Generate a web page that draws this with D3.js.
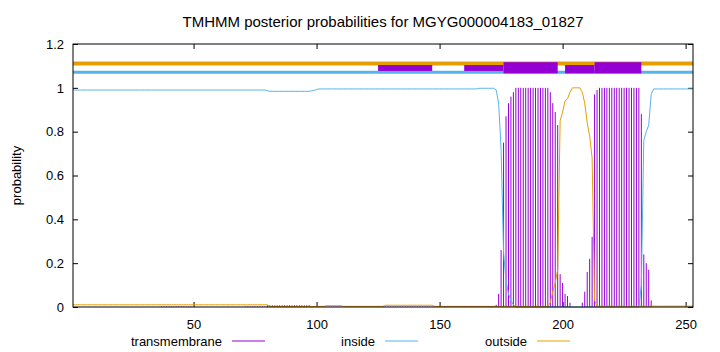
<!DOCTYPE html>
<html>
<head>
<meta charset="utf-8">
<script src="https://cdn.jsdelivr.net/npm/d3@7"></script>
<style>
    body { margin: 0; background: #fff; }
    text { font-family: "Liberation Sans", Arial, sans-serif; font-size: 13px; fill: #000; }
</style>
</head>
<body>
<div id="chart"></div>
<script>
'use strict';

var title = 'TMHMM posterior probabilities for MGYG000004183_01827';
var seqLength = 253;
var xTicks = [50, 100, 150, 200, 250];
var yTicks = [0, 0.2, 0.4, 0.6, 0.8, 1, 1.2];
var seriesNames = ['transmembrane', 'inside', 'outside'];

// runs of [from, to, value], residues inclusive
var transmembraneRuns = [
    [37, 49, 0.002], [71, 79, 0.002], [80, 97, 0.008], [98, 148, 0.002], [149, 172, 0.004],
    [173, 173, 0.01], [174, 174, 0.06], [175, 175, 0.26], [176, 176, 0.75], [177, 177, 0.87],
    [178, 178, 0.93], [179, 179, 0.96], [180, 180, 0.98], [181, 194, 1], [195, 195, 0.98],
    [196, 196, 0.93], [197, 197, 0.89], [198, 198, 0.83], [199, 199, 0.15], [200, 200, 0.11],
    [201, 201, 0.06], [202, 202, 0.05], [203, 203, 0.02], [208, 208, 0.02], [209, 209, 0.07],
    [210, 210, 0.16], [211, 211, 0.22], [212, 212, 0.32], [213, 213, 0.97], [214, 214, 0.99],
    [215, 231, 1], [232, 232, 0.88], [233, 233, 0.24], [234, 234, 0.2], [235, 235, 0.17],
    [236, 236, 0.03]
];
var insideRuns = [
    [1, 79, 0.99], [80, 80, 0.987], [81, 97, 0.984], [98, 98, 0.986], [99, 99, 0.989],
    [100, 100, 0.992], [101, 165, 0.995], [166, 172, 0.998], [173, 173, 0.99], [174, 174, 0.93],
    [175, 175, 0.72], [176, 176, 0.25], [177, 177, 0.12], [178, 178, 0.06], [179, 179, 0.03],
    [180, 180, 0.01], [181, 231, 0], [232, 232, 0.1], [233, 233, 0.76], [234, 234, 0.8],
    [235, 235, 0.83], [236, 236, 0.97], [237, 253, 0.995]
];
var outsideRuns = [
    [1, 80, 0.01], [81, 101, 0.002], [102, 103, 0.003], [104, 110, 0.006], [111, 127, 0.003],
    [128, 147, 0.008], [148, 194, 0.003], [195, 195, 0.02], [196, 196, 0.07], [197, 197, 0.11],
    [198, 198, 0.17], [199, 199, 0.85], [200, 200, 0.89], [201, 201, 0.94], [202, 202, 0.95],
    [203, 203, 0.98], [204, 207, 1], [208, 208, 0.98], [209, 209, 0.93], [210, 210, 0.84],
    [211, 211, 0.78], [212, 212, 0.68], [213, 213, 0.03], [214, 253, 0.004]
];

// topology strip above the curves
var topLineLevels = [1.111, 1.071];   // outside, inside
var topBoxes = [
    [125, 147, 1.077, 1.104], [160, 176, 1.077, 1.104], [176, 198, 1.066, 1.117],
    [201, 213, 1.066, 1.104], [213, 232, 1.066, 1.117]
];

var colors = { transmembrane: '#9400d3', inside: '#56b4e9', outside: '#e69f00' };

function expandRuns(runs) {
    var values = [];
    runs.forEach(function(run) {
        for (var i = run[0]; i <= run[1]; i++) {
            values.push({ pos: i, value: run[2] });
        }
    });
    return values;
}

var width = 720, height = 352;
var margin = { top: 44, right: 27, bottom: 45, left: 73 };
var plotW = width - margin.left - margin.right;
var plotH = height - margin.top - margin.bottom;

var x = d3.scaleLinear().domain([1, seqLength]).range([0, plotW]);
var y = d3.scaleLinear().domain([0, 1.2]).range([plotH, 0]);

var svg = d3.select('#chart').append('svg')
    .attr('width', width)
    .attr('height', height);

svg.append('text')
    .attr('x', margin.left + plotW / 2)
    .attr('y', 27)
    .attr('text-anchor', 'middle')
    .style('font-size', '15px')
    .text(title);

svg.append('text')
    .attr('transform', 'translate(21,' + (margin.top + plotH / 2) + ') rotate(-90)')
    .attr('text-anchor', 'middle')
    .text('probability');

var g = svg.append('g')
    .attr('transform', 'translate(' + margin.left + ',' + margin.top + ')');

// axes with inward ticks, mirrored on top/right
function styleAxis(sel) {
    sel.select('.domain').remove();
    sel.selectAll('line').attr('stroke', '#000');
    sel.selectAll('text').style('font-size', '13px')
        .style('font-family', '"Liberation Sans", Arial, sans-serif');
}

g.append('g')
    .attr('transform', 'translate(0,' + plotH + ')')
    .call(d3.axisBottom(x).tickValues(xTicks).tickSize(-5).tickPadding(13))
    .call(styleAxis);
g.append('g')
    .call(d3.axisTop(x).tickValues(xTicks).tickSize(-5).tickFormat(''))
    .call(styleAxis);
g.append('g')
    .call(d3.axisLeft(y).tickValues(yTicks).tickSize(-5).tickPadding(9).tickFormat(d3.format('~g')))
    .call(styleAxis);
g.append('g')
    .attr('transform', 'translate(' + plotW + ',0)')
    .call(d3.axisRight(y).tickValues(yTicks).tickSize(-5).tickFormat(''))
    .call(styleAxis);

// transmembrane impulses
g.append('g').selectAll('line')
    .data(expandRuns(transmembraneRuns))
    .enter().append('line')
    .attr('x1', function(d) { return x(d.pos); })
    .attr('x2', function(d) { return x(d.pos); })
    .attr('y1', y(0))
    .attr('y2', function(d) { return y(d.value); })
    .attr('stroke', colors.transmembrane)
    .attr('stroke-width', 1);

var line = d3.line()
    .x(function(d) { return x(d.pos); })
    .y(function(d) { return y(d.value); });

g.append('path')
    .attr('d', line(expandRuns(insideRuns)))
    .attr('fill', 'none')
    .attr('stroke', colors.inside)
    .attr('stroke-width', 1);

g.append('path')
    .attr('d', line(expandRuns(outsideRuns)))
    .attr('fill', 'none')
    .attr('stroke', colors.outside)
    .attr('stroke-width', 1);

// topology strip
g.append('line')
    .attr('x1', 0).attr('x2', plotW)
    .attr('y1', y(topLineLevels[0])).attr('y2', y(topLineLevels[0]))
    .attr('stroke', colors.outside)
    .attr('stroke-width', 4);
g.append('line')
    .attr('x1', 0).attr('x2', plotW)
    .attr('y1', y(topLineLevels[1])).attr('y2', y(topLineLevels[1]))
    .attr('stroke', colors.inside)
    .attr('stroke-width', 3);

g.append('g').selectAll('rect')
    .data(topBoxes)
    .enter().append('rect')
    .attr('x', function(d) { return x(d[0]); })
    .attr('width', function(d) { return x(d[1]) - x(d[0]); })
    .attr('y', function(d) { return y(d[3]); })
    .attr('height', function(d) { return y(d[2]) - y(d[3]); })
    .attr('fill', colors.transmembrane);

g.append('rect')
    .attr('x', 0).attr('y', 0)
    .attr('width', plotW).attr('height', plotH)
    .attr('fill', 'none')
    .attr('stroke', '#000')
    .attr('stroke-width', 1);

// legend
var legendTextX = [222, 375, 527];
var legend = svg.append('g').selectAll('g')
    .data(seriesNames)
    .enter().append('g');
legend.append('text')
    .attr('x', function(d, i) { return legendTextX[i]; })
    .attr('y', 345.5)
    .attr('text-anchor', 'end')
    .text(function(d) { return d; });
legend.append('line')
    .attr('x1', function(d, i) { return legendTextX[i] + 10; })
    .attr('x2', function(d, i) { return legendTextX[i] + 43; })
    .attr('y1', 341).attr('y2', 341)
    .attr('stroke', function(d) { return colors[d]; })
    .attr('stroke-width', 1);
</script>
</body>
</html>
